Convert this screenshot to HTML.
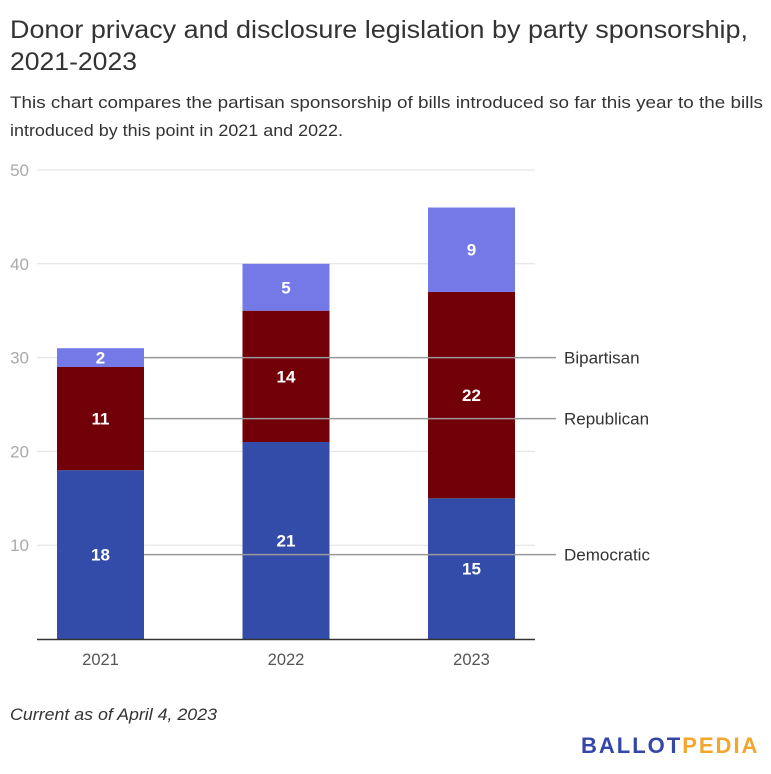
<!DOCTYPE html>
<html><head><meta charset="utf-8"><style>
body{margin:0;background:#fff;font-family:"Liberation Sans",Arial,sans-serif;}
svg text{font-family:"Liberation Sans",Arial,sans-serif;}
</style></head><body>
<svg width="771" height="769">
<text x="10" y="38" font-size="25" fill="#333" textLength="738" lengthAdjust="spacingAndGlyphs">Donor privacy and disclosure legislation by party sponsorship,</text>
<text x="10" y="70" font-size="25" fill="#333" textLength="127" lengthAdjust="spacingAndGlyphs">2021-2023</text>
<text x="10" y="108" font-size="17" fill="#333" textLength="753" lengthAdjust="spacingAndGlyphs">This chart compares the partisan sponsorship of bills introduced so far this year to the bills</text>
<text x="10" y="136" font-size="17" fill="#333" textLength="333" lengthAdjust="spacingAndGlyphs">introduced by this point in 2021 and 2022.</text>
<g id="grid"></g><g id="bars"></g><g id="leg"></g>
<line x1="37" x2="535" y1="639.5" y2="639.5" stroke="#333" stroke-width="1.5"/>
<text x="10" y="720" font-size="16.5" font-style="italic" fill="#333" textLength="207" lengthAdjust="spacingAndGlyphs">Current as of April 4, 2023</text>
<text x="581" y="753" font-size="22" font-weight="bold" letter-spacing="2" fill="#3447a8">BALLOT<tspan fill="#f2a72c">PEDIA</tspan></text>
</svg>
<script>
const years=["2021","2022","2023"];
const democratic=[18,21,15];
const republican=[11,14,22];
const bipartisan=[2,5,9];
const yTicks=[10,20,30,40,50];
const seriesNames=["Democratic","Republican","Bipartisan"];
const NS="http://www.w3.org/2000/svg";
const y=v=>639-v*9.38;
const xc=i=>100.5+i*185.5;
const BW=87;
function mk(t,a,p){const e=document.createElementNS(NS,t);for(const k in a)e.setAttribute(k,a[k]);p.appendChild(e);return e;}
const grid=document.getElementById('grid');
yTicks.forEach(t=>{
 const l=mk('line',{x1:37,x2:535,y1:y(t),y2:y(t),stroke:'#e0e0e0','stroke-width':1},grid);
 
 
 const tx=mk('text',{x:29,y:y(t)+6,'text-anchor':'end','font-size':17,fill:'#aaa'},grid);
 tx.textContent=t;
 
 
});
const bars=document.getElementById('bars');
const series=[democratic,republican,bipartisan];
const colors=["#344ca9","#720008","#7579e8"];
years.forEach((yr,i)=>{
 let base=0;
 series.forEach((s,j)=>{
  const v=s[i];
  const r=mk('rect',{x:xc(i)-BW/2,y:y(base+v),width:BW,height:y(base)-y(base+v),fill:colors[j]},bars);
  
  
  const t=mk('text',{x:xc(i),y:y(base+v/2)+6,'text-anchor':'middle','font-size':17,'font-weight':'bold',fill:'#fff'},bars);
  t.textContent=v;
  
  
  base+=v;
 });
 const xt=mk('text',{x:xc(i),y:665,'text-anchor':'middle','font-size':16.5,fill:'#555'},bars);
 xt.textContent=yr;
 
 
});
const leg=document.getElementById('leg');
let base=0;
series.forEach((s,j)=>{
 const mid=base+s[0]/2; base+=s[0];
 const l=mk('line',{x1:xc(0)+BW/2,x2:556,y1:y(mid),y2:y(mid),stroke:'#999','stroke-width':1.5},leg);
 
 
 const t=mk('text',{x:564,y:y(mid)+6,'font-size':17,fill:'#333'},leg);
 t.textContent=seriesNames[j];
 
 
});
</script>
</body></html>
